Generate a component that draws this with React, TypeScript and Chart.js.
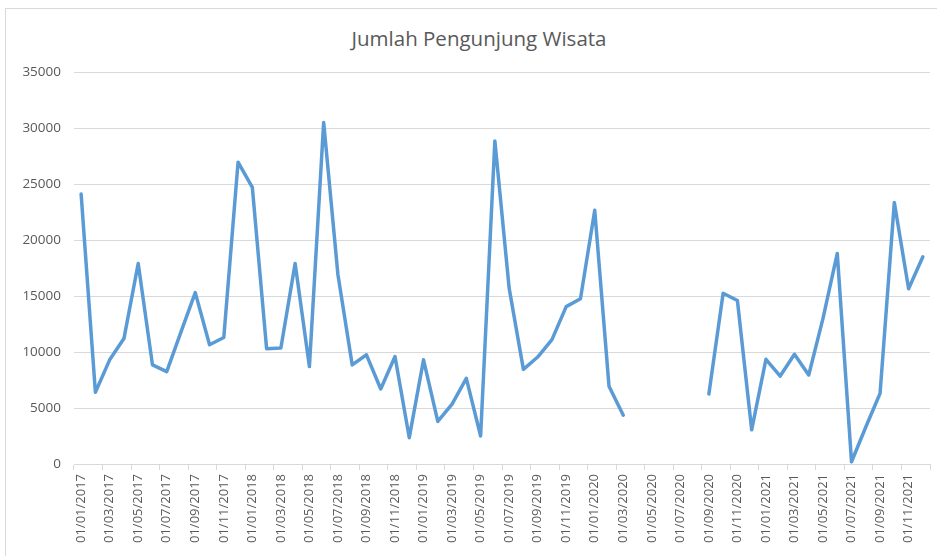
import React, { useEffect, useRef } from "react";
import { Chart, registerables } from "chart.js";

Chart.register(...registerables);

const TITLE = "Jumlah Pengunjung Wisata";
const YEARS = [2017, 2018, 2019, 2020, 2021];
const MONTHS = ["01", "02", "03", "04", "05", "06", "07", "08", "09", "10", "11", "12"];
const Y_TICKS = [0, 5000, 10000, 15000, 20000, 25000, 30000, 35000];

const v2017 = [24100, 6400, 9300, 11200, 17900, 8850, 8250, 11800, 15300, 10650, 11300, 26950];
const v2018 = [24700, 10300, 10350, 17900, 8700, 30500, 16900, 8850, 9750, 6700, 9600, 2350];
const v2019 = [9300, 3800, 5350, 7650, 2500, 28850, 15700, 8450, 9550, 11100, 14050, 14750];
const v2020 = [22650, 6950, 4350, null, null, null, null, null, 6250, 15250, 14600, 3050];
const v2021 = [9350, 7850, 9800, 7950, 13000, 18800, 200, 3300, 6300, 23350, 15650, 18500];

const categories: string[] = [];
YEARS.forEach((y) => MONTHS.forEach((m) => categories.push(`01/${m}/${y}`)));
const values = [...v2017, ...v2018, ...v2019, ...v2020, ...v2021];

const FONT = "'Open Sans', 'Noto Sans', sans-serif";
const GRID = "#d9d9d9";
const TEXT = "#595959";

export default function App() {
  const ref = useRef<HTMLCanvasElement | null>(null);
  useEffect(() => {
    if (!ref.current) return;
    const chart = new Chart(ref.current, {
      type: "line",
      data: {
        labels: categories,
        datasets: [
          {
            data: values,
            borderColor: "#5b9bd5",
            borderWidth: 3.5,
            pointRadius: 0,
            tension: 0,
            spanGaps: false,
            borderJoinStyle: "round",
            borderCapStyle: "round",
          },
        ],
      },
      options: {
        animation: false,
        responsive: false,
        maintainAspectRatio: false,
        layout: { padding: { left: 0, right: 7, top: 72, bottom: 0 } },
        plugins: {
          legend: { display: false },
          tooltip: { enabled: false },
          title: { display: false },
        },
        scales: {
          x: {
            type: "category",
            offset: true,
            grid: {
              offset: true,
              drawOnChartArea: false,
              drawTicks: true,
              tickLength: 6,
              color: (ctx: any) =>
                ctx.index === undefined || ctx.index % 2 === 0 ? GRID : "rgba(0,0,0,0)",
            },
            border: { display: true, color: GRID, width: 1 },
            ticks: {
              autoSkip: false,
              minRotation: 90,
              maxRotation: 90,
              color: TEXT,
              padding: 4,
              font: { family: FONT, size: 13 },
              callback: (_v: any, i: number) => (i % 2 === 0 ? categories[i] : ""),
            },
            afterFit: (scale: any) => {
              scale.height = 92;
              scale.paddingLeft = 0;
              scale.paddingRight = 0;
            },
          },
          y: {
            min: 0,
            max: 35000,
            afterBuildTicks: (scale: any) => {
              scale.ticks = Y_TICKS.map((v) => ({ value: v }));
            },
            grid: { color: GRID, drawTicks: false, lineWidth: 1 },
            border: { display: false },
            ticks: {
              color: TEXT,
              padding: 13,
              font: { family: FONT, size: 13.5 },
              callback: (v: any) => String(v),
            },
            afterFit: (scale: any) => {
              scale.width = 74;
              scale.paddingTop = 0;
              scale.paddingBottom = 0;
            },
          },
        },
      },
    });
    return () => chart.destroy();
  }, []);

  return (
    <div
      style={{
        position: "fixed",
        left: 0,
        top: 0,
        width: 937,
        height: 556,
        background: "#fff",
        overflow: "hidden",
      }}
    >
      <div
        style={{
          position: "absolute",
          left: 5,
          top: 8,
          width: 960,
          height: 600,
          border: `1px solid ${GRID}`,
        }}
      />
      <div
        style={{
          position: "absolute",
          left: 0,
          top: 28,
          width: 958,
          textAlign: "center",
          fontFamily: FONT,
          fontSize: 20.5,
          lineHeight: "20.5px",
          color: TEXT,
          whiteSpace: "nowrap",
        }}
      >
        {TITLE}
      </div>
      <canvas
        ref={ref}
        width={937}
        height={556}
        style={{ position: "absolute", left: 0, top: 0, width: 937, height: 556 }}
      />
    </div>
  );
}
